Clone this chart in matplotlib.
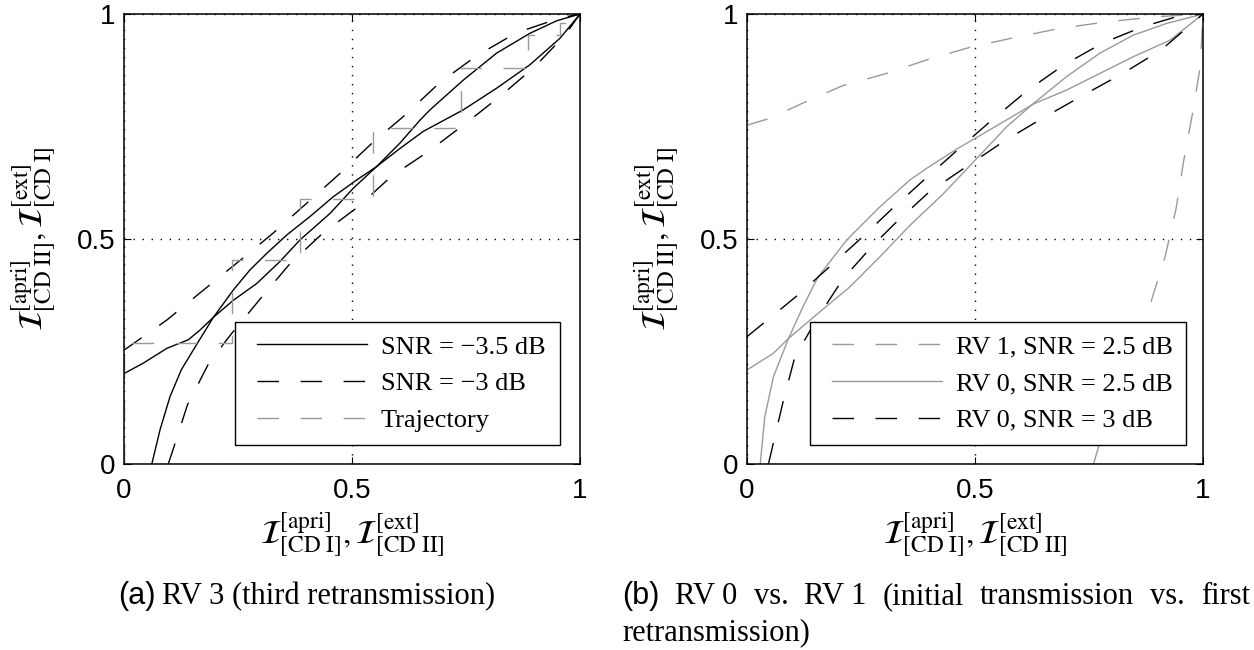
import matplotlib.pyplot as plt
from matplotlib.lines import Line2D
from matplotlib.patches import Rectangle

plt.rcParams['mathtext.fontset'] = 'stix'
plt.rcParams['lines.scale_dashes'] = False

SERIF = 'Liberation Serif'
SANS = 'Liberation Sans'
GRAY = '#9a9a9a'
DASH = (15.5, 15.5)

# ---------------- (a) RV 3, third retransmission ----------------
# SNR = -3.5 dB, decoder I transfer curve
a_s35_cd1_x = [0, 0.042, 0.094, 0.141, 0.167, 0.196, 0.24, 0.291, 0.342, 0.386, 0.452,
               0.503, 0.554, 0.605, 0.649, 0.671, 0.744, 0.817, 0.89, 0.949, 1.0]
a_s35_cd1_y = [0.201, 0.224, 0.257, 0.276, 0.298, 0.326, 0.364, 0.401, 0.45, 0.498, 0.557,
               0.613, 0.661, 0.713, 0.764, 0.787, 0.853, 0.913, 0.957, 0.985, 1.0]
# SNR = -3.5 dB, decoder II (inverted axes)
a_s35_cd2_x = [0.061, 0.079, 0.101, 0.126, 0.159, 0.196, 0.24, 0.276, 0.313, 0.357, 0.408,
               0.459, 0.51, 0.554, 0.605, 0.656, 0.744, 0.817, 0.89, 0.956, 1.0]
a_s35_cd2_y = [0.0, 0.076, 0.15, 0.21, 0.265, 0.326, 0.387, 0.431, 0.468, 0.509, 0.55,
               0.594, 0.631, 0.661, 0.701, 0.739, 0.787, 0.835, 0.887, 0.946, 1.0]
# SNR = -3 dB
a_s3_cd1_x = [0, 0.094, 0.17, 0.254, 0.327, 0.4, 0.474, 0.547, 0.616, 0.693, 0.773, 0.86, 0.956, 1.0]
a_s3_cd1_y = [0.253, 0.32, 0.383, 0.452, 0.513, 0.579, 0.646, 0.716, 0.775, 0.848, 0.907, 0.958, 0.991, 1.0]
a_s3_cd2_x = [0.097, 0.105, 0.139, 0.186, 0.236, 0.298, 0.363, 0.436, 0.514, 0.587, 0.667,
              0.748, 0.826, 0.901, 0.967, 1.0]
a_s3_cd2_y = [0.0, 0.024, 0.131, 0.224, 0.29, 0.366, 0.444, 0.513, 0.572, 0.64, 0.694,
              0.756, 0.818, 0.883, 0.953, 1.0]
# decoding trajectory corners
traj_x = [0, 0.236, 0.386, 0.547, 0.74, 0.885, 0.956, 0.99]
traj_y = [0.268, 0.453, 0.589, 0.746, 0.879, 0.953, 0.979, 1.0]

# ---------------- (b) RV 0 vs. RV 1 ----------------
b_rv1_cd1_x = [0, 0.05, 0.118, 0.208, 0.306, 0.394, 0.489, 0.588, 0.686, 0.785, 0.887, 0.979, 1.0]
b_rv1_cd1_y = [0.753, 0.768, 0.8, 0.84, 0.868, 0.898, 0.926, 0.948, 0.968, 0.982, 0.993, 0.999, 1.0]
b_rv1_cd2_x = [0.76, 0.77, 0.876, 0.887, 0.917, 0.941, 0.958, 0.977, 0.994, 1.0]
b_rv1_cd2_y = [0.0, 0.035, 0.324, 0.364, 0.461, 0.568, 0.676, 0.779, 0.883, 1.0]
b_rv0_25_cd1_x = [0, 0.058, 0.091, 0.156, 0.226, 0.292, 0.357, 0.43, 0.504, 0.57, 0.628,
                  0.701, 0.774, 0.847, 0.92, 1.0]
b_rv0_25_cd1_y = [0.209, 0.246, 0.279, 0.335, 0.394, 0.461, 0.53, 0.6, 0.679, 0.75, 0.801,
                  0.861, 0.913, 0.953, 0.979, 1.0]
b_rv0_25_cd2_x = [0.029, 0.039, 0.058, 0.091, 0.123, 0.156, 0.219, 0.292, 0.357, 0.394, 0.46,
                  0.511, 0.57, 0.628, 0.701, 0.774, 0.847, 0.928, 1.0]
b_rv0_25_cd2_y = [0.0, 0.105, 0.194, 0.279, 0.35, 0.416, 0.498, 0.572, 0.631, 0.657, 0.7,
                  0.73, 0.765, 0.8, 0.831, 0.868, 0.905, 0.942, 1.0]
b_rv0_3_cd1_x = [0, 0.116, 0.173, 0.244, 0.317, 0.39, 0.463, 0.539, 0.615, 0.695, 0.781, 0.869, 0.942, 1.0]
b_rv0_3_cd1_y = [0.283, 0.379, 0.431, 0.496, 0.566, 0.633, 0.699, 0.766, 0.83, 0.887, 0.936, 0.972, 0.994, 1.0]
b_rv0_3_cd2_x = [0.047, 0.08, 0.105, 0.156, 0.211, 0.277, 0.325, 0.4, 0.483, 0.566, 0.651,
                 0.738, 0.824, 0.907, 1.0]
b_rv0_3_cd2_y = [0.0, 0.142, 0.238, 0.327, 0.412, 0.487, 0.535, 0.605, 0.662, 0.719, 0.77,
                 0.82, 0.868, 0.919, 1.0]

ticks = [0, 0.5, 1]
tick_labels = ['0', '0.5', '1']
xlabel = r'$\mathcal{I}^{[\mathrm{apri}]}_{[\mathrm{CD\ I}]},\mathcal{I}^{[\mathrm{ext}]}_{[\mathrm{CD\ II}]}$'
ylabel = r'$\mathcal{I}^{[\mathrm{apri}]}_{[\mathrm{CD\ II}]},\mathcal{I}^{[\mathrm{ext}]}_{[\mathrm{CD\ I}]}$'

W, H = 1254, 650
AX_W, AX_H = 456, 450       # axes size in pixels
AX_TOP, AX_BOT = 14, 464
fig = plt.figure(figsize=(W / 100, H / 100), dpi=100)


def axes_px(x0):
    return fig.add_axes([x0 / W, (H - AX_BOT) / H, AX_W / W, AX_H / H])


def style(ax):
    ax.set_xlim(0, 1)
    ax.set_ylim(0, 1)
    ax.set_xticks(ticks)
    ax.set_yticks(ticks)
    ax.set_xticklabels(tick_labels, family=SANS, size=20)
    ax.set_yticklabels(tick_labels, family=SANS, size=20)
    ax.tick_params(direction='in', length=5, width=0.8, top=True, right=True)
    ax.tick_params(axis='x', pad=10)
    ax.tick_params(axis='y', pad=6)
    ax.grid(True, color='k', linestyle=(0, (1, 5.5)), linewidth=1.0)
    for sp in ax.spines.values():
        sp.set_linewidth(1.1)
    ax.set_xlabel(xlabel, size=24)
    ax.set_ylabel(ylabel, size=24)
    ax.xaxis.set_label_coords(0.5, -0.104)
    ax.yaxis.set_label_coords(-0.142, 0.5)


def legend(ax, ax_x0, handles, labels, frame, handle_x):
    # frame drawn by hand so the inner padding can be set per side
    fx0, fx1, fy0, fy1 = frame
    ax.add_patch(Rectangle(((fx0 - ax_x0) / AX_W, (AX_BOT - fy1) / AX_H),
                           (fx1 - fx0) / AX_W, (fy1 - fy0) / AX_H,
                           transform=ax.transAxes, facecolor='white', edgecolor='k',
                           lw=1.0, zorder=4.9, clip_on=False))
    ax.legend(handles, labels, loc='center left',
              bbox_to_anchor=((handle_x - ax_x0) / AX_W, (AX_BOT - (fy0 + fy1) / 2) / AX_H),
              borderaxespad=0, borderpad=0, frameon=False,
              prop={'family': SERIF, 'size': 19},
              handlelength=4.15, handletextpad=0.55, labelspacing=0.5)


lw = 1.0

# panel (a)
AX_A = 124
ax_a = axes_px(AX_A)
style(ax_a)
ax_a.plot(a_s35_cd1_x, a_s35_cd1_y, color='k', lw=lw)
ax_a.plot(a_s35_cd2_x, a_s35_cd2_y, color='k', lw=lw)
ax_a.plot(a_s3_cd1_x, a_s3_cd1_y, color='k', lw=lw, dashes=DASH)
ax_a.plot(a_s3_cd2_x, a_s3_cd2_y, color='k', lw=lw, dashes=DASH)

# staircase between the two -3 dB curves
tx, ty = [traj_x[0]], [0.0]
for i in range(len(traj_x)):
    tx.append(traj_x[i])
    ty.append(traj_y[i])
    if i + 1 < len(traj_x):
        tx.append(traj_x[i + 1])
        ty.append(traj_y[i])
ax_a.plot(tx, ty, color=GRAY, lw=lw, dashes=DASH)

legend(ax_a, AX_A,
       [Line2D([], [], color='k', lw=lw),
        Line2D([], [], color='k', lw=lw, dashes=DASH),
        Line2D([], [], color=GRAY, lw=lw, dashes=DASH)],
       ['SNR = \u22123.5 dB', 'SNR = \u22123 dB', 'Trajectory'],
       (235, 560, 322, 445), 257)

# panel (b)
AX_B = 747
ax_b = axes_px(AX_B)
style(ax_b)
ax_b.plot(b_rv1_cd1_x, b_rv1_cd1_y, color=GRAY, lw=lw, dashes=DASH)
ax_b.plot(b_rv1_cd2_x, b_rv1_cd2_y, color=GRAY, lw=lw, dashes=DASH)
ax_b.plot(b_rv0_25_cd1_x, b_rv0_25_cd1_y, color=GRAY, lw=lw)
ax_b.plot(b_rv0_25_cd2_x, b_rv0_25_cd2_y, color=GRAY, lw=lw)
ax_b.plot(b_rv0_3_cd1_x, b_rv0_3_cd1_y, color='k', lw=lw, dashes=DASH)
ax_b.plot(b_rv0_3_cd2_x, b_rv0_3_cd2_y, color='k', lw=lw, dashes=DASH)

legend(ax_b, AX_B,
       [Line2D([], [], color=GRAY, lw=lw, dashes=DASH),
        Line2D([], [], color=GRAY, lw=lw),
        Line2D([], [], color='k', lw=lw, dashes=DASH)],
       ['RV 1, SNR = 2.5 dB', 'RV 0, SNR = 2.5 dB', 'RV 0, SNR = 3 dB'],
       (810, 1186, 322, 445), 832)

# captions
renderer = fig.canvas.get_renderer()
CAP = 22
LINE1, LINE2 = 604, 640


def word(x, y, s, family):
    t = fig.text(x / W, 1 - y / H, s, family=family, size=CAP, va='baseline', ha='left')
    return t, t.get_window_extent(renderer).width


space = 7
t, w = word(118, LINE1, '(a)', SANS)
word(118 + w + space, LINE1, 'RV 3 (third retransmission)', SERIF)

# first line of (b) is justified between the two margins
line_b = [('(b)', SANS), ('RV 0', SERIF), ('vs.', SERIF), ('RV 1', SERIF), ('(initial', SERIF),
          ('transmission', SERIF), ('vs.', SERIF), ('first', SERIF)]
items = [word(0, LINE1, s, f) for s, f in line_b]
x0, x1 = 622, 1250
gap = (x1 - x0 - sum(w for _, w in items)) / (len(items) - 1)
x = x0
for t, w in items:
    t.set_x(x / W)
    x += w + gap
word(622, LINE2, 'retransmission)', SERIF)

fig.savefig('out.png', dpi=100)
